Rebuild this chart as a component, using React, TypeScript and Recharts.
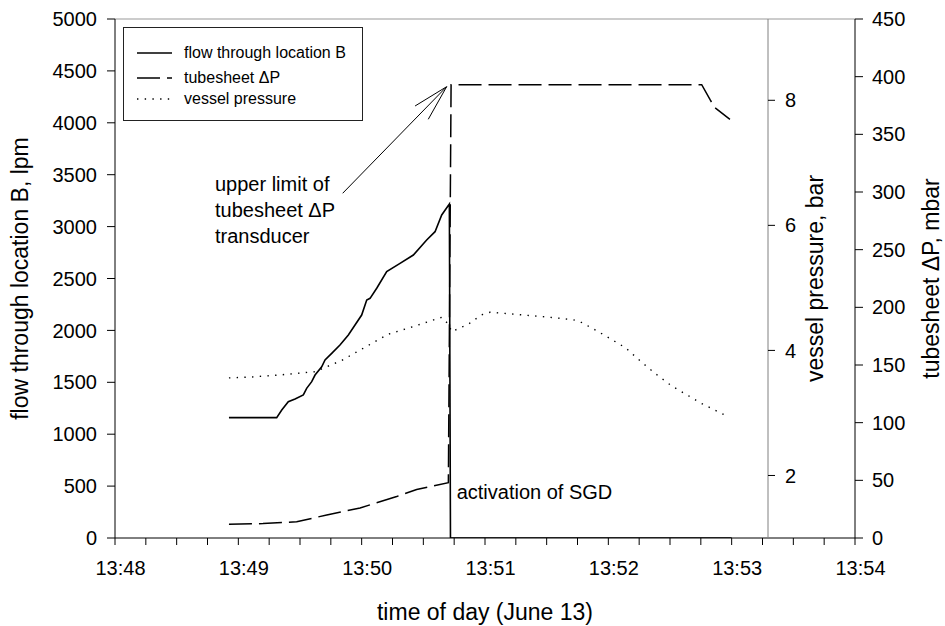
import { LineChart, Line, XAxis, YAxis, ReferenceLine, ReferenceDot, Legend } from 'recharts';

const FONT = '"Liberation Sans", Arial, Helvetica, sans-serif';

// x values are minutes after 13:48
const timeLabels = ['13:48', '13:49', '13:50', '13:51', '13:52', '13:53', '13:54'];
const timeTicks = [0, 0.25, 0.5, 0.75, 1, 1.25, 1.5, 1.75, 2, 2.25, 2.5, 2.75, 3, 3.25, 3.5, 3.75, 4, 4.25, 4.5, 4.75, 5, 5.25, 5.5, 5.75, 6];
const flowTicks = [0, 500, 1000, 1500, 2000, 2500, 3000, 3500, 4000, 4500, 5000];
const dpTicks = [0, 50, 100, 150, 200, 250, 300, 350, 400, 450];
const vesselTicks = [2, 4, 6, 8];

// flow through location B, lpm
const flowTime = [0.924, 1.311, 1.352, 1.405, 1.46, 1.527, 1.554, 1.595, 1.622, 1.676, 1.703, 1.757, 1.824, 1.892, 1.946, 2.0, 2.041, 2.068, 2.122, 2.203, 2.311, 2.419, 2.527, 2.595, 2.649, 2.711, 2.72, 5.0];
const flowValue = [1160, 1160, 1233, 1313, 1339, 1378, 1442, 1506, 1570, 1650, 1715, 1779, 1859, 1956, 2052, 2148, 2293, 2309, 2406, 2566, 2646, 2726, 2871, 2951, 3112, 3218, 0, 0];

// tubesheet dP, mbar
const dpTime = [0.924, 1.2, 1.473, 1.717, 1.987, 2.284, 2.446, 2.703, 2.725, 4.757, 4.825, 4.865, 4.986];
const dpValue = [12, 12.5, 14, 20, 26, 36, 42, 48, 393, 393, 380, 373, 363];

// vessel pressure, bar
const vesselTime = [0.924, 1.108, 1.352, 1.622, 1.838, 2.027, 2.216, 2.432, 2.649, 2.703, 2.73, 2.865, 2.973, 3.041, 3.23, 3.527, 3.716, 3.77, 3.892, 4.014, 4.141, 4.265, 4.387, 4.508, 4.636, 4.757, 4.879, 4.941];
const vesselValue = [3.56, 3.575, 3.61, 3.66, 3.84, 4.05, 4.26, 4.39, 4.53, 4.42, 4.3, 4.42, 4.57, 4.61, 4.58, 4.53, 4.49, 4.46, 4.33, 4.19, 4.04, 3.82, 3.62, 3.44, 3.29, 3.15, 3.03, 2.97];

// where the vessel pressure axis stands on the time axis
const vesselAxisTime = 5.295;

// annotation (time, flow-axis value)
const arrowTail = { t: 1.846, v: 3321 };
const arrowTip = { t: 2.689, v: 4348 };
const arrowBarbs = [{ t: 2.433, v: 4162 }, { t: 2.54, v: 4034 }];
const noteTime = 0.77;
const noteLines = ['upper limit of', 'tubesheet \u0394P', 'transducer'];
const noteLevels = [3410, 3160, 2909];
const sgdNote = { t: 2.73, v: 446, text: 'activation of SGD' };

const toPoints = (ts: number[], vs: number[]) => ts.map((t, i) => ({ t, v: vs[i] }));
const flowData = toPoints(flowTime, flowValue);
const dpData = toPoints(dpTime, dpValue);
const vesselData = toPoints(vesselTime, vesselValue);

const dashes: Record<string, string | undefined> = {
    'flow through location B': undefined,
    'tubesheet \u0394P': '23 7',
    'vessel pressure': '1.4 6.3',
};
const legendRows = [25, 50, 71];

const renderLegend = (props: any) => {
    const items = props.payload || [];
    return (
        <div style={{ position: 'relative', width: 240, height: 94, boxSizing: 'border-box', border: '1px solid #222', background: '#fff', fontFamily: FONT, fontSize: 16, color: '#000' }}>
            {items.map((entry: any, i: number) => (
                <div key={entry.value} style={{ position: 'absolute', left: 13, top: legendRows[i] - 10, height: 20, display: 'flex', alignItems: 'center' }}>
                    <svg width={36} height={6} style={{ marginRight: 11 }}>
                        <line x1={0} y1={3} x2={35} y2={3} stroke="#000" strokeWidth={1.4} strokeDasharray={dashes[entry.value]} />
                    </svg>
                    <span style={{ whiteSpace: 'nowrap' }}>{entry.value}</span>
                </div>
            ))}
        </div>
    );
};

const tickStyle = { fill: '#000', fontSize: 20 };
const titleStyle = { fill: '#000', fontSize: 23 };

const App = () => {
    return (
        <div style={{ position: 'absolute', left: 0, top: 0, width: 945, height: 626, fontFamily: FONT, background: '#fff' }}>
            <div style={{ position: 'absolute', left: 0, top: 0 }}>
                <LineChart width={945} height={626} margin={{ top: 19, right: 0, bottom: 0, left: 0 }}>
                    <XAxis
                        type="number"
                        dataKey="t"
                        domain={[0, 6]}
                        ticks={timeTicks}
                        interval={0}
                        allowDataOverflow
                        height={88}
                        tickSize={7}
                        tickMargin={16}
                        stroke="#000"
                        tick={{ ...tickStyle, dx: 5.5 }}
                        tickFormatter={(v: number) => (Number.isInteger(v) ? timeLabels[v] : '')}
                        label={{ value: 'time of day (June 13)', position: 'insideBottom', offset: 6, ...titleStyle }}
                    />
                    <YAxis
                        yAxisId="flow"
                        width={115}
                        domain={[0, 5000]}
                        ticks={flowTicks}
                        interval={0}
                        allowDataOverflow
                        tickSize={8}
                        tickMargin={10}
                        stroke="#000"
                        tick={tickStyle}
                        label={{ value: 'flow through location B, lpm', angle: -90, position: 'insideLeft', offset: 20, ...titleStyle, style: { textAnchor: 'middle' } }}
                    />
                    <YAxis
                        yAxisId="dp"
                        orientation="right"
                        width={90}
                        domain={[0, 450]}
                        ticks={dpTicks}
                        interval={0}
                        allowDataOverflow
                        tickSize={8}
                        tickMargin={9}
                        stroke="#000"
                        tick={tickStyle}
                        label={{ value: 'tubesheet \u0394P, mbar', angle: -90, position: 'insideRight', offset: 14, ...titleStyle, style: { textAnchor: 'middle' } }}
                    />
                    <YAxis yAxisId="vp" hide domain={[1, 9.3]} allowDataOverflow />
                    <ReferenceLine yAxisId="flow" y={5000} stroke="#999" strokeWidth={1} />

                    <Line yAxisId="flow" data={flowData} dataKey="v" name="flow through location B" type="linear" stroke="#000" strokeWidth={1.6} dot={false} activeDot={false} isAnimationActive={false} />
                    <Line yAxisId="dp" data={dpData} dataKey="v" name={'tubesheet \u0394P'} type="linear" stroke="#000" strokeWidth={1.5} strokeDasharray="23 7" dot={false} activeDot={false} isAnimationActive={false} />
                    <Line yAxisId="vp" data={vesselData} dataKey="v" name="vessel pressure" type="linear" stroke="#000" strokeWidth={1.4} strokeDasharray="1.4 6.3" dot={false} activeDot={false} isAnimationActive={false} />

                    <ReferenceLine yAxisId="flow" segment={[{ x: arrowTail.t, y: arrowTail.v }, { x: arrowTip.t, y: arrowTip.v }]} stroke="#000" strokeWidth={1} />
                    {arrowBarbs.map((b, i) => (
                        <ReferenceLine key={'barb' + i} yAxisId="flow" segment={[{ x: b.t, y: b.v }, { x: arrowTip.t, y: arrowTip.v }]} stroke="#000" strokeWidth={1} />
                    ))}
                    {noteLines.map((line, i) => (
                        <ReferenceDot key={'note' + i} yAxisId="flow" x={noteTime} y={noteLevels[i]} r={0} fill="none" stroke="none"
                            label={{ value: line, position: 'right', offset: 5, fill: '#000', fontSize: 20 }} />
                    ))}
                    <ReferenceDot yAxisId="flow" x={sgdNote.t} y={sgdNote.v} r={0} fill="none" stroke="none"
                        label={{ value: sgdNote.text, position: 'right', offset: 5, fill: '#000', fontSize: 20 }} />

                    <Legend layout="vertical" align="center" verticalAlign="middle" wrapperStyle={{ left: 123, top: 27, width: 240, height: 94 }} content={renderLegend} />
                </LineChart>
            </div>
            <div style={{ position: 'absolute', left: 0, top: 0, pointerEvents: 'none' }}>
                <LineChart width={945} height={626} margin={{ top: 19, right: 117, bottom: 88, left: 115 }}>
                    <XAxis type="number" dataKey="t" hide domain={[0, vesselAxisTime]} allowDataOverflow />
                    <YAxis
                        yAxisId="vp"
                        orientation="right"
                        width={60}
                        domain={[1, 9.3]}
                        ticks={vesselTicks}
                        interval={0}
                        allowDataOverflow
                        tickSize={7}
                        tickMargin={10}
                        axisLine={{ stroke: '#808080' }}
                        tickLine={{ stroke: '#000' }}
                        tick={tickStyle}
                        label={{ value: 'vessel pressure, bar', angle: -90, position: 'insideRight', offset: 13, ...titleStyle, style: { textAnchor: 'middle' } }}
                    />
                    <Line yAxisId="vp" data={vesselData} dataKey="v" stroke="#000" strokeOpacity={0} dot={false} activeDot={false} isAnimationActive={false} legendType="none" />
                </LineChart>
            </div>
        </div>
    );
};

export default App;
